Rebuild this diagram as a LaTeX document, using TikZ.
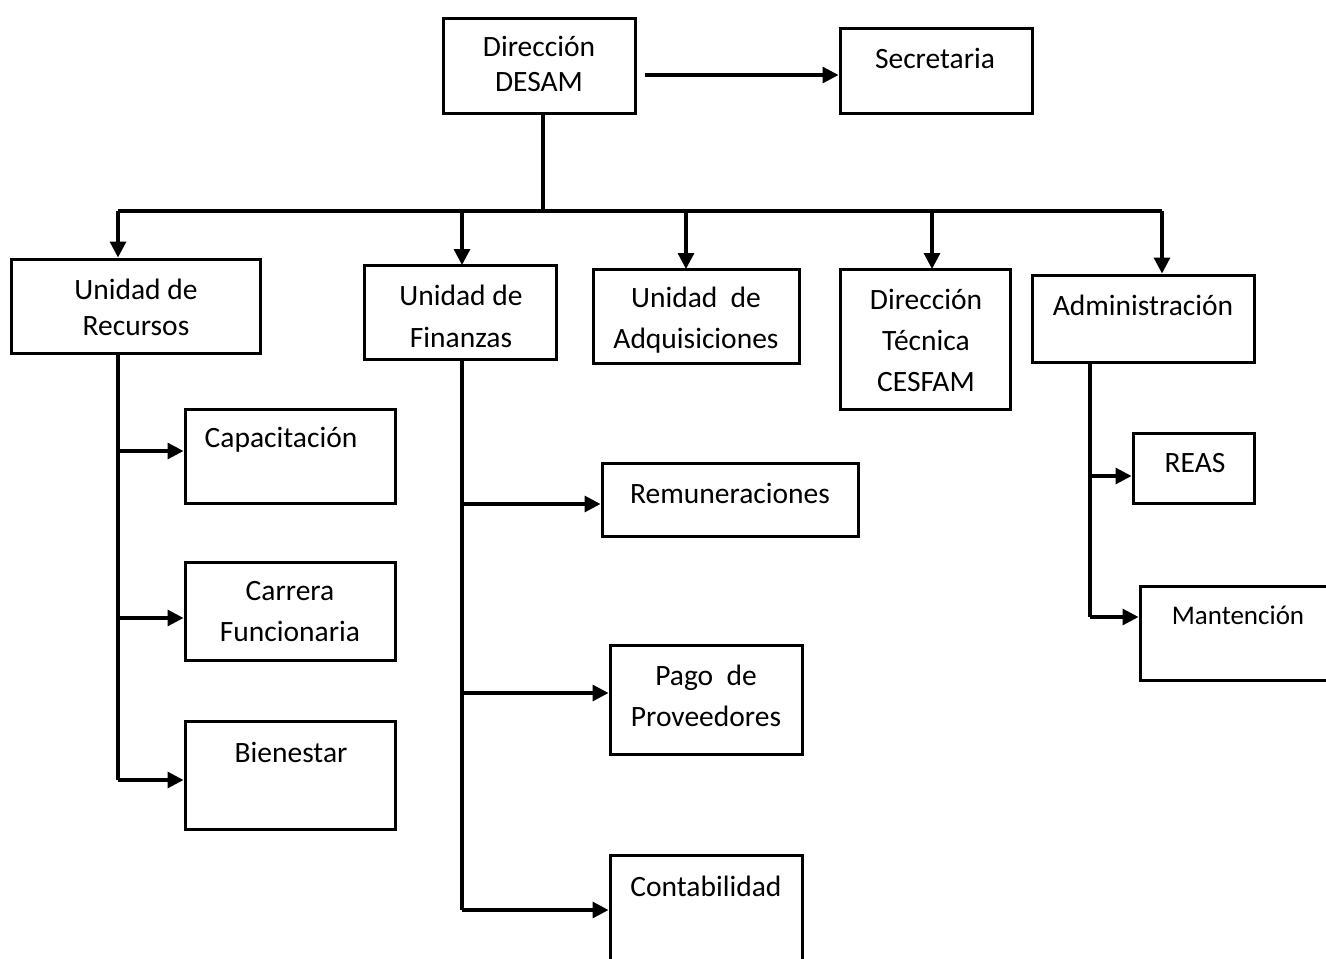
\documentclass[tikz,border=0pt]{standalone}
\usepackage{fontspec}
\setmainfont{Carlito}
\usetikzlibrary{arrows.meta}
\tikzset{
  box/.style={draw, line width=3pt, inner sep=0pt},
  lbl/.style={align=center, inner sep=0pt, font=\fontsize{29.5}{38}\selectfont},
  conn/.style={line width=3.2pt},
  arr/.style={line width=3.2pt, -{Triangle[length=16pt,width=16pt]}},
}
\newcommand{\mkbox}[5]{\node[box, minimum width=#4-#2, minimum height=#5-#3] (#1) at ({(#2+#4)/2},{(#3+#5)/2}) {};}
\begin{document}
\begin{tikzpicture}[x=1pt,y=-1pt]
\useasboundingbox (0,0) rectangle (1326,959);
% boxes
\mkbox{dir}{443}{18}{635}{113}
\mkbox{sec}{840}{28}{1032}{113}
\mkbox{rec}{11}{259}{260}{353}
\mkbox{fin}{364}{265}{556}{359}
\mkbox{adq}{593}{269}{799}{363}
\mkbox{tec}{840}{269}{1010}{409}
\mkbox{adm}{1032}{275}{1254}{362}
\mkbox{cap}{185}{409}{395}{503}
\mkbox{car}{185}{562}{395}{660}
\mkbox{bie}{185}{721}{395}{829}
\mkbox{rem}{602}{463}{858}{536}
\mkbox{pag}{610}{645}{802}{754}
\mkbox{con}{610}{855}{802}{975}
\mkbox{rea}{1133}{433}{1254}{503}
\mkbox{man}{1140}{586}{1340}{680}
% labels
\node[lbl, font=\fontsize{29.5}{35}\selectfont] (tdir) at (539,64) {Dirección\\DESAM};
\node[lbl] (tsec) at (935,58) {Secretaria};
\node[lbl, font=\fontsize{29.5}{36}\selectfont] (trec) at (136,307) {Unidad de\\Recursos};
\node[lbl, font=\fontsize{29.5}{42}\selectfont] (tfin) at (461,316) {Unidad de\\Finanzas};
\node[lbl, font=\fontsize{29.5}{41}\selectfont] (tadq) at (696,320) {Unidad \ de\\Adquisiciones};
\node[lbl, font=\fontsize{29.5}{41}\selectfont] (ttec) at (926,340) {Dirección\\Técnica\\CESFAM};
\node[lbl] (tadm) at (1143,305) {Administración};
\node[lbl] (tcap) at (281,440) {Capacitación};
\node[lbl, font=\fontsize{29.5}{41}\selectfont] (tcar) at (290,612) {Carrera\\Funcionaria};
\node[lbl] (tbie) at (291,752) {Bienestar};
\node[lbl] (trem) at (730,493) {Remuneraciones};
\node[lbl, font=\fontsize{29.5}{41}\selectfont] (tpag) at (706,696) {Pago \ de\\Proveedores};
\node[lbl] (tcon) at (706,886) {Contabilidad};
\node[lbl] (trea) at (1195,463) {REAS};
\node[lbl, font=\fontsize{27}{36}\selectfont] (tman) at (1238,615) {Mantención};
% top connectors
\coordinate (j) at (543,211);
\coordinate (jl) at (118,211);
\coordinate (jr) at (1162,211);
\draw[arr] ([xshift=8pt]dir.east |- 0,75) -- (sec.west |- 0,75);
\draw[conn] (dir.south -| j) -- (j);
\draw[conn] (jl) -- (jr);
\draw[arr] (jl) -- (jl |- rec.north);
\draw[arr] (462,211) -- (462,265);
\draw[arr] (686,211) -- (686,269);
\draw[arr] (932,211) -- (932,269);
\draw[arr] (jr) -- (jr |- adm.north);
% recursos
\draw[conn] (jl |- rec.south) -- (118,780);
\draw[arr] (118,451) -- (cap.west |- 0,451);
\draw[arr] (118,618) -- (car.west |- 0,618);
\draw[arr] (118,780) -- (bie.west |- 0,780);
% finanzas
\draw[conn] (462,359) -- (462,910);
\draw[arr] (462,504) -- (rem.west |- 0,504);
\draw[arr] (462,693) -- (pag.west |- 0,693);
\draw[arr] (462,910) -- (con.west |- 0,910);
% administracion
\draw[conn] (1090,362) -- (1090,617);
\draw[arr] (1090,476) -- (rea.west |- 0,476);
\draw[arr] (1090,617) -- (man.west |- 0,617);
\end{tikzpicture}
\end{document}
